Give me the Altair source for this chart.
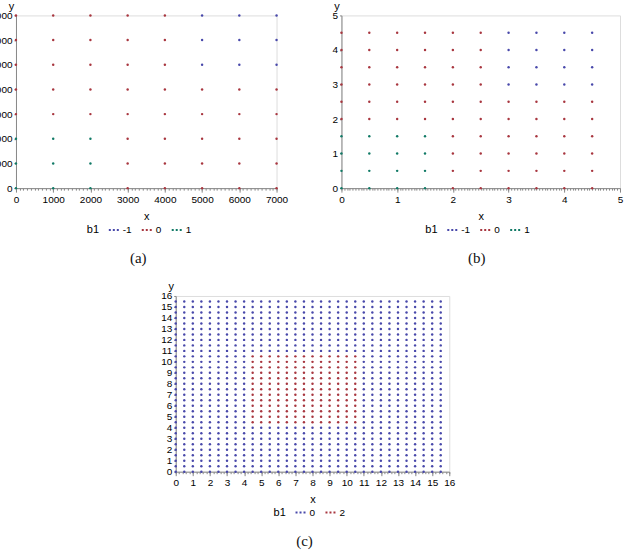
import altair as alt
import pandas as pd

# ---------------- data ----------------
# panel (a)
a_x = [0, 1000, 2000, 3000, 4000, 5000, 6000, 7000]
a_y = [7000, 6000, 5000, 4000, 3000, 2000, 1000, 0]          # rows, top to bottom
a_rows = [
    ["0", "0", "0", "0", "0", "-1", "-1", "-1"],
    ["0", "0", "0", "0", "0", "-1", "-1", "-1"],
    ["0", "0", "0", "0", "0", "-1", "-1", "-1"],
    ["0", "0", "0", "0", "0", "0", "0", "0"],
    ["0", "0", "0", "0", "0", "0", "0", "0"],
    ["1", "1", "1", "0", "0", "0", "0", "0"],
    ["1", "1", "1", "0", "0", "0", "0", "0"],
    ["1", "1", "1", "0", "0", "0", "0", "0"],
]

# panel (b)
b_x = [0, 0.5, 1, 1.5, 2, 2.5, 3, 3.5, 4, 4.5]
b_y = [4.5, 4, 3.5, 3, 2.5, 2, 1.5, 1, 0.5, 0]              # rows, top to bottom
b_rows = [
    ["0", "0", "0", "0", "0", "0", "-1", "-1", "-1", "-1"],
    ["0", "0", "0", "0", "0", "0", "-1", "-1", "-1", "-1"],
    ["0", "0", "0", "0", "0", "0", "-1", "-1", "-1", "-1"],
    ["0", "0", "0", "0", "0", "0", "-1", "-1", "-1", "-1"],
    ["0", "0", "0", "0", "0", "0", "0", "0", "0", "0"],
    ["0", "0", "0", "0", "0", "0", "0", "0", "0", "0"],
    ["1", "1", "1", "1", "0", "0", "0", "0", "0", "0"],
    ["1", "1", "1", "1", "0", "0", "0", "0", "0", "0"],
    ["1", "1", "1", "1", "0", "0", "0", "0", "0", "0"],
    ["1", "1", "1", "1", "0", "0", "0", "0", "0", "0"],
]

# panel (c)
c_x = [0, 0.5, 1, 1.5, 2, 2.5, 3, 3.5, 4, 4.5, 5, 5.5, 6, 6.5, 7, 7.5,
       8, 8.5, 9, 9.5, 10, 10.5, 11, 11.5, 12, 12.5, 13, 13.5, 14, 14.5, 15, 15.5]
c_y = [15.5, 15, 14.5, 14, 13.5, 13, 12.5, 12, 11.5, 11, 10.5, 10, 9.5, 9, 8.5, 8,
       7.5, 7, 6.5, 6, 5.5, 5, 4.5, 4, 3.5, 3, 2.5, 2, 1.5, 1, 0.5, 0]   # rows, top to bottom
c_rows = [
    "00000000000000000000000000000000",  # 15.5
    "00000000000000000000000000000000",  # 15
    "00000000000000000000000000000000",  # 14.5
    "00000000000000000000000000000000",  # 14
    "00000000000000000000000000000000",  # 13.5
    "00000000000000000000000000000000",  # 13
    "00000000000000000000000000000000",  # 12.5
    "00000000000000000000000000000000",  # 12
    "00000000000000000000000000000000",  # 11.5
    "00000000000000000000000000000000",  # 11
    "00000000022222222222220000000000",  # 10.5
    "00000000022222222222220000000000",  # 10
    "00000000022222222222220000000000",  # 9.5
    "00000000022222222222220000000000",  # 9
    "00000000022222222222220000000000",  # 8.5
    "00000000022222222222220000000000",  # 8
    "00000000022222222222220000000000",  # 7.5
    "00000000022222222222220000000000",  # 7
    "00000000022222222222220000000000",  # 6.5
    "00000000022222222222220000000000",  # 6
    "00000000022222222222220000000000",  # 5.5
    "00000000022222222222220000000000",  # 5
    "00000000022222222222220000000000",  # 4.5
    "00000000000000000000000000000000",  # 4
    "00000000000000000000000000000000",  # 3.5
    "00000000000000000000000000000000",  # 3
    "00000000000000000000000000000000",  # 2.5
    "00000000000000000000000000000000",  # 2
    "00000000000000000000000000000000",  # 1.5
    "00000000000000000000000000000000",  # 1
    "00000000000000000000000000000000",  # 0.5
    "00000000000000000000000000000000",  # 0
]

a_ticks = [0, 1000, 2000, 3000, 4000, 5000, 6000, 7000]
b_ticks = [0, 1, 2, 3, 4, 5]
c_ticks = list(range(0, 17))


def grid_frame(xs, ys, rows):
    recs = []
    for i, yv in enumerate(ys):
        for j, xv in enumerate(xs):
            recs.append({"x": xv, "y": yv, "b1": str(rows[i][j])})
    return pd.DataFrame(recs)


df_a = grid_frame(a_x, a_y, a_rows)
df_b = grid_frame(b_x, b_y, b_rows)
df_c = grid_frame(c_x, c_y, c_rows)

# ---------------- style ----------------
BLUE = "#4848aa"
RED = "#a8363f"
GREEN = "#117a66"
FONT = "Liberation Sans"
AXC = "#8a8a8a"
TXT = "#333333"
DOTS = "M-1,-0.2H-0.6V0.2H-1Z M-0.2,-0.2H0.2V0.2H-0.2Z M0.6,-0.2H1V0.2H0.6Z"


def panel(df, xmax, ymax, xticks, yticks, minor_step, nminor, w, h,
          dom, rng, legx, legy, caption, cap_dx=0):
    minor_vals = [round(k * minor_step, 3) for k in range(nminor + 1)]
    xs = alt.Scale(domain=[0, xmax], nice=False, zero=False)
    ys = alt.Scale(domain=[0, ymax], nice=False, zero=False)
    xaxis = alt.Axis(
        values=xticks, format="d", orient="bottom",
        tickSize=4, labelOverlap=False, labelFlush=False, labelPadding=2,
        title="x", titlePadding=6, titleFontWeight="normal", grid=False,
    )
    minor_axis = alt.Axis(
        values=minor_vals, orient="bottom", labels=False, domain=False,
        tickSize=2, title=None, grid=False,
    )
    yaxis = alt.Axis(
        values=yticks, grid=False, format="d", orient="left",
        labelOverlap=False, labelFlush=False, tickSize=2, labelPadding=2,
        title="y", titleAngle=0, titleAlign="center", titleBaseline="alphabetic",
        titleX=-5, titleY=-6, titleFontWeight="normal",
    )
    points = alt.Chart(df).mark_circle(size=6, opacity=1).encode(
        x=alt.X("x:Q", scale=xs, axis=xaxis),
        y=alt.Y("y:Q", scale=ys, axis=yaxis),
        color=alt.Color(
            "b1:N",
            scale=alt.Scale(domain=dom, range=rng),
            sort=dom,
            legend=alt.Legend(
                orient="none", legendX=legx, legendY=legy, direction="horizontal",
                titleOrient="left", symbolType=DOTS, symbolSize=100,
                symbolStrokeWidth=0, symbolOpacity=1, titlePadding=9,
                columnPadding=10, labelOffset=4, titleFontWeight="normal",
            ),
        ),
    )
    minor = alt.Chart(df).mark_circle(size=6, opacity=0).encode(
        x=alt.X("x:Q", scale=xs, axis=minor_axis),
    )
    return alt.layer(points, minor).resolve_axis(x="independent").properties(
        width=w, height=h,
        title=alt.TitleParams(caption, orient="bottom", font="Liberation Serif",
                              fontSize=15, fontWeight="normal", color="#111",
                              anchor="middle", offset=16, dx=cap_dx),
    )


pa = panel(df_a, 7000, 7000, a_ticks, a_ticks, 100, 70, 261, 173,
           ["-1", "0", "1"], [BLUE, RED, GREEN], 71, 210, "(a)", -8)
pb = panel(df_b, 5, 5, b_ticks, b_ticks, 0.05, 100, 279, 173,
           ["-1", "0", "1"], [BLUE, RED, GREEN], 84, 210, "(b)", -4)
pc = panel(df_c, 16, 16, c_ticks, c_ticks, 0.2, 80, 274, 176,
           ["0", "2"], [BLUE, RED], 98, 212, "(c)", -8)

spacer = alt.Chart(pd.DataFrame({"v": [0]})).mark_point(opacity=0).encode(
    x=alt.value(0), y=alt.value(0)
).properties(width=143, height=1, view=alt.ViewBackground(stroke="transparent"))

top = alt.hconcat(pa, pb, spacing=42).resolve_scale(color="independent")
bottom = alt.hconcat(spacer, pc, spacing=0).resolve_scale(color="independent")
chart = alt.vconcat(top, bottom, spacing=13).resolve_scale(
    color="independent"
).properties(
    padding={"left": -11, "top": -1, "right": 0, "bottom": 0}
).configure_view(
    stroke="#9a9a9a", strokeWidth=1
).configure_axis(
    domainColor=AXC, tickColor=AXC, labelColor=TXT, titleColor=TXT,
    labelFont=FONT, titleFont=FONT, labelFontSize=9, titleFontSize=9.5,
    titleFontWeight="normal",
).configure_legend(
    labelFont=FONT, titleFont=FONT, labelFontSize=9.5, titleFontSize=9.5,
    titleFontWeight="normal", labelColor=TXT, titleColor=TXT,
).configure(background="white")

chart.save("out.html", embed_options={"renderer": "svg", "actions": False})
